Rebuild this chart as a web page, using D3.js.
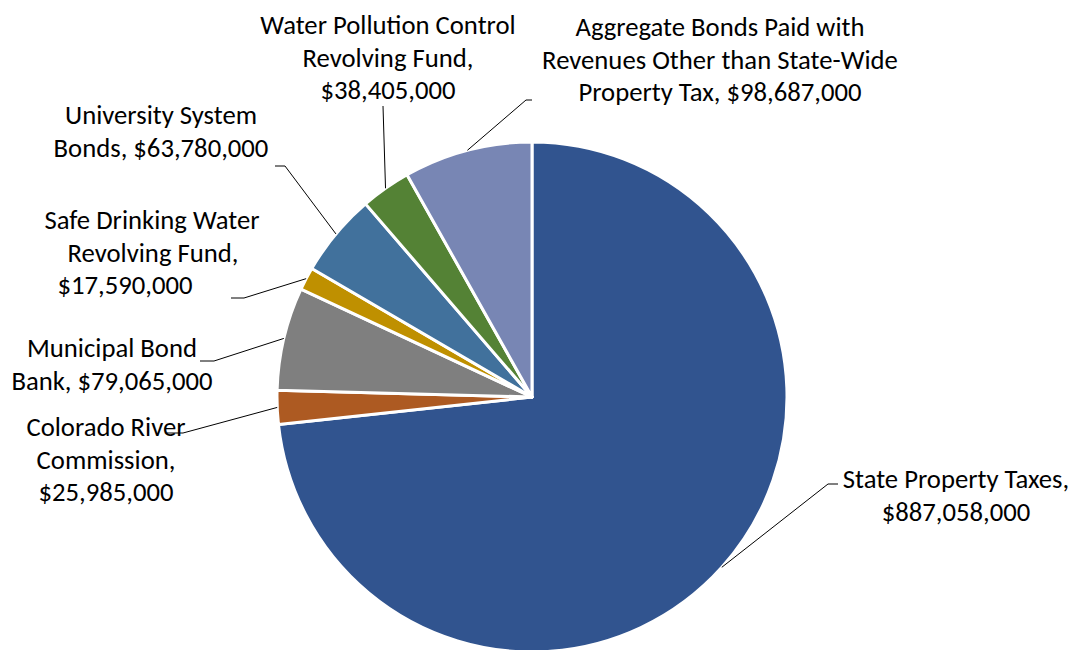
<!DOCTYPE html>
<html>
<head>
  <meta charset="utf-8">
  <script src="https://cdn.jsdelivr.net/npm/d3@7"></script>
  <style>
    body { margin: 0; background: white; }
    svg { display: block; }
    text { font-family: Carlito, Calibri, "Open Sans", sans-serif; font-size: 26.7px; fill: #000; }
  </style>
</head>
<body>
  <script>
    const categories = [
      'State Property Taxes',
      'Colorado River Commission',
      'Municipal Bond Bank',
      'Safe Drinking Water Revolving Fund',
      'University System Bonds',
      'Water Pollution Control Revolving Fund',
      'Aggregate Bonds Paid with Revenues Other than State-Wide Property Tax'
    ]
    const values = [887058000, 25985000, 79065000, 17590000, 63780000, 38405000, 98687000]
    const colors = ['#31548f', '#ad5a22', '#7f7f7f', '#bf9000', '#41719c', '#548235', '#7886b4']
    // label text split as in the chart, {v} = value
    const labelLines = [
      ['State Property Taxes,', '{v}'],
      ['Colorado River', 'Commission,', '{v}'],
      ['Municipal Bond', 'Bank, {v}'],
      ['Safe Drinking Water', 'Revolving Fund,', '{v}'],
      ['University System', 'Bonds, {v}'],
      ['Water Pollution Control', 'Revolving Fund,', '{v}'],
      ['Aggregate Bonds Paid with', 'Revenues Other than State-Wide', 'Property Tax, {v}']
    ]

    // layout: label centre x per line, first line centre y, leader elbow points
    const labelPos = [
      { x: [956, 956], y: 479, leader: [[838, 484], [828, 484]] },
      { x: [106, 106, 106], y: 427, leader: [[167, 433], [183, 433]] },
      { x: [112, 112], y: 348, leader: [[200, 361], [214, 361]] },
      { x: [152, 153, 125], y: 220, leader: [[231, 298], [244, 298]] },
      { x: [161, 161], y: 115, leader: [[275, 166], [285, 166]] },
      { x: [388, 388, 388], y: 25, leader: [[383, 106]] },
      { x: [720, 720, 720], y: 27, leader: [[532, 100], [526, 100]] }
    ]

    const W = 1075, H = 650
    const cx = 532, cy = 397, R = 255
    const lineH = 32.5
    const fmt = d3.format('$,')

    const svg = d3.select('body').append('svg').attr('width', W).attr('height', H)

    const pie = d3.pie().sort(null).value(d => d)
    const arcs = pie(values)
    const arc = d3.arc().innerRadius(0).outerRadius(R)

    const g = svg.append('g').attr('transform', `translate(${cx},${cy})`)
    g.selectAll('path')
      .data(arcs)
      .join('path')
      .attr('d', arc)
      .attr('fill', (d, i) => colors[i])
      .attr('stroke', 'white')
      .attr('stroke-width', 3)
      .attr('stroke-linejoin', 'round')

    // leader lines
    const lineGen = d3.line()
    arcs.forEach((a, i) => {
      const mid = (a.startAngle + a.endAngle) / 2
      const end = [cx + R * Math.sin(mid), cy - R * Math.cos(mid)]
      const pts = labelPos[i].leader.concat([end])
      svg.append('path')
        .attr('d', lineGen(pts))
        .attr('fill', 'none')
        .attr('stroke', '#000')
        .attr('stroke-width', 1)
    })

    // labels
    labelLines.forEach((lines, i) => {
      const p = labelPos[i]
      lines.forEach((ln, j) => {
        svg.append('text')
          .attr('x', p.x[j])
          .attr('y', p.y + j * lineH)
          .attr('dy', '0.35em')
          .attr('text-anchor', 'middle')
          .text(ln.replace('{v}', fmt(values[i])))
      })
    })
  </script>
</body>
</html>
